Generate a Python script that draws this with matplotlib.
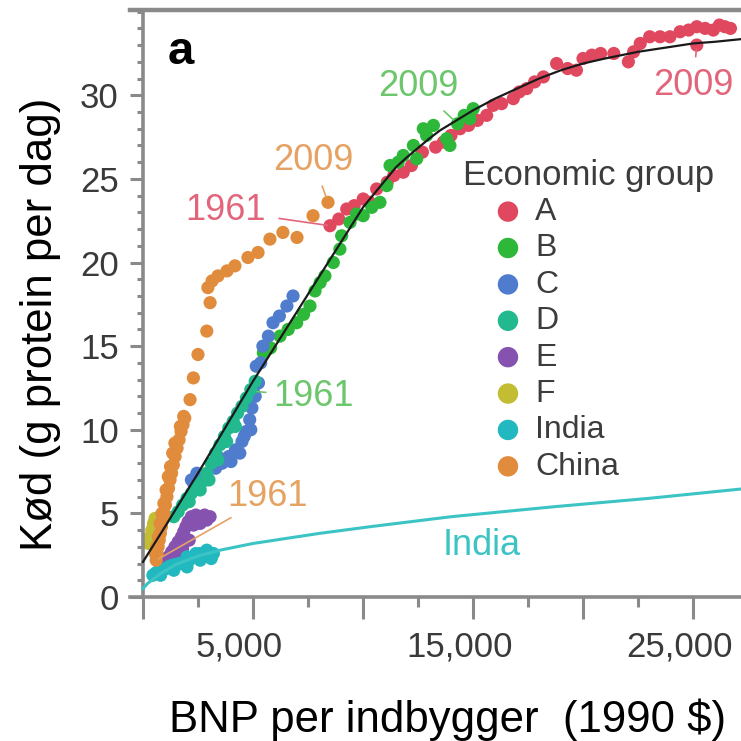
import matplotlib
matplotlib.use("Agg")
import matplotlib.pyplot as plt
import matplotlib.transforms as mtransforms
from matplotlib.ticker import FixedLocator, MultipleLocator

plt.rcParams['font.family'] = ['Liberation Sans', 'DejaVu Sans']

# --- data (GDP per capita, meat protein g/day) ---
A_x = [8500, 8900, 9260, 9600, 10010, 10300, 10620, 11100, 11400, 11830, 12200, 12700,
       13300, 13650, 14000, 14410, 14800, 15200, 15620, 15920, 16300, 16830, 17100, 17440,
       17800, 18200, 18800, 19300, 19700, 20000, 20400, 20800, 21400, 22060, 22300, 22600,
       23030, 23500, 23950, 24410, 24800, 25170, 25550, 25920, 26200, 26450, 26700, 25170]
A_y = [22.2, 22.6, 23.2, 23.4, 23.8, 23.6, 24.4, 24.8, 25.2, 25.4, 25.8, 26.6,
       26.9, 27.2, 27.6, 28.0, 28.2, 28.5, 28.8, 29.4, 29.5, 29.8, 30.2, 30.4,
       30.8, 31.1, 31.9, 31.6, 31.5, 32.2, 32.4, 32.5, 32.5, 32.0, 32.6, 33.1,
       33.5, 33.5, 33.5, 33.8, 33.9, 34.1, 34.0, 33.9, 34.2, 34.1, 34.0, 33.0]

B_x = [5000, 5200, 5470, 5800, 6230, 6600, 6985, 7300, 7590, 7820, 8050, 8270, 8650, 8950,
       9030, 9410, 9700, 10010, 10400, 10770, 11080, 11230, 11600, 11830, 12290, 12440,
       12740, 12890, 13200, 13800, 13950, 14600, 15010, 14860, 14300]
B_y = [12.3, 12.8, 14.6, 14.9, 15.6, 16.0, 16.4, 16.9, 17.4, 18.3, 18.8, 19.2, 20.0, 20.8,
       21.6, 22.4, 22.9, 22.8, 23.3, 23.6, 24.6, 25.8, 26.0, 26.4, 27.0, 26.2,
       28.0, 27.6, 28.2, 27.4, 27.0, 28.8, 29.2, 28.6, 28.3]

C_x = [2200, 2300, 2450, 3300, 3400, 3600, 3900, 4000, 4200, 4400, 4500, 4600, 4700, 4850,
       4900, 4950, 5000, 5100, 5250, 5150, 5350, 5450, 5700, 5910, 6200, 6540, 6820]
C_y = [7.0, 6.8, 7.4, 7.7, 8.4, 8.0, 8.4, 8.1, 8.8, 8.6, 9.3, 9.6, 9.9, 10.6,
       10.0, 11.3, 12.4, 12.0, 12.8, 13.8, 14.0, 15.0, 15.6, 16.4, 16.8, 17.4, 18.0]

D_x = [1400, 1600, 1800, 2000, 2100, 2200, 2450, 2600, 2700, 2900, 3000, 3100, 3300, 3400,
       3500, 3700, 3800, 3900, 4100, 4200, 4300, 4500, 4700, 4900, 5100]
D_y = [4.8, 5.1, 5.5, 5.9, 5.7, 6.2, 6.6, 6.4, 6.9, 7.4, 7.0, 8.0, 8.6, 8.2,
       9.1, 9.6, 9.3, 10.1, 10.5, 10.2, 11.0, 11.4, 11.9, 12.4, 12.9]

E_x = [850, 1000, 1150, 1200, 1300, 1450, 1600, 1700, 1750, 1850, 1950, 2050, 2200, 2300,
       2400, 2600, 2650, 2800, 2900, 3050, 1500, 1800, 2100]
E_y = [1.8, 2.1, 2.4, 2.0, 2.7, 3.0, 3.3, 2.6, 3.6, 3.9, 4.2, 4.5, 4.8, 4.3,
       4.9, 4.4, 4.8, 4.9, 4.6, 4.8, 2.4, 2.9, 3.4]

F_x = [250, 330, 400, 480, 550]
F_y = [3.2, 3.6, 4.0, 4.4, 4.7]

india_x = [450, 550, 650, 750, 800, 850, 950, 1050, 1150, 1250, 1350, 1400, 1500, 1650,
           1800, 1950, 2000, 2100, 2250, 2400, 2600, 2600, 2800, 2900, 3000, 3100, 3200, 2000]
india_y = [1.3, 1.4, 1.5, 1.55, 1.3, 1.6, 1.65, 1.7, 1.8, 1.85, 1.9, 1.6, 1.95, 2.0,
           2.05, 2.1, 1.8, 2.2, 2.4, 2.6, 2.6, 2.2, 2.5, 2.8, 2.5, 2.3, 2.6, 2.4]

china_x = [600, 560, 620, 640, 690, 700, 740, 780, 790, 840, 860, 900, 950, 960, 1020,
           1050, 1090, 1150, 1160, 1230, 1250, 1300, 1350, 1380, 1450, 1460, 1550, 1640,
           1700, 1730, 1820, 1850, 1900, 2140, 2290, 2500, 2900, 3050, 2950, 3140,
           3410, 3820, 4180, 4770, 5230, 5770, 6360, 7000, 7730, 8410]
china_y = [2.2, 2.6, 3.0, 2.6, 3.0, 3.6, 3.4, 4.4, 3.8, 4.2, 5.0, 4.6, 5.6, 5.0, 5.5,
           6.4, 6.0, 7.2, 6.5, 7.0, 7.8, 7.4, 8.6, 7.9, 9.2, 8.4, 8.9, 9.4,
           10.2, 9.9, 10.3, 10.8, 10.7, 11.8, 13.1, 14.5, 15.9, 17.6, 18.5, 18.9,
           19.2, 19.5, 19.8, 20.3, 20.6, 21.4, 21.8, 21.5, 22.8, 23.6]

# fitted curve and India curve
fit_x = [0, 1000, 2500, 5000, 7500, 10000, 11500, 12000, 13000, 13500, 14500, 15000,
         16000, 17000, 18000, 19000, 20000, 21000, 22500, 23500, 25000, 26000, 27500]
fit_y = [2.1, 4.2, 7.4, 12.9, 18.1, 23.3, 25.7, 26.3, 27.4, 27.9, 28.7, 29.1,
         29.8, 30.4, 31.0, 31.5, 31.9, 32.2, 32.6, 32.8, 33.1, 33.2, 33.4]
ind_line_x = [0, 200, 400, 800, 1500, 2500, 3500, 5000, 6500, 8000, 10300, 14000, 18700, 23000, 27500]
ind_line_y = [0.5, 0.8, 1.0, 1.4, 1.95, 2.45, 2.8, 3.2, 3.5, 3.8, 4.2, 4.8, 5.4, 5.9, 6.5]

groups = ['A', 'B', 'C', 'D', 'E', 'F', 'India', 'China']
colors = ['#e0485f', '#2db83a', '#4f7ccc', '#22b98e', '#8652b0', '#c2bd33', '#22b8bf', '#e08c3c']
series = [(A_x, A_y), (B_x, B_y), (C_x, C_y), (D_x, D_y), (E_x, E_y), (F_x, F_y),
          (india_x, india_y), (china_x, china_y)]

x_ticks = [0, 5000, 10000, 15000, 20000, 25000]
x_labeled = [5000, 15000, 25000]

fig = plt.figure(figsize=(7.41, 7.41), dpi=100)
ax = fig.add_axes([130 / 741, 144 / 741, 611 / 741, 587 / 741])

handles = []
for (xs, ys), c, g in zip(series, colors, groups):
    h = ax.scatter(xs, ys, s=90, color=c, edgecolors='none', label=g, zorder=2)
    handles.append(h)

ax.plot(fit_x, fit_y, color='#1a1a1a', lw=1.6, zorder=4)
ax.plot(ind_line_x, ind_line_y, color='#3cc4c4', lw=2.2, zorder=4)

ax.set_xlim(-590, 27180)
ax.set_ylim(0, 35.1)

grey = '#8a8a8a'
for side in ['top', 'bottom', 'left']:
    ax.spines[side].set_color(grey)
    ax.spines[side].set_linewidth(2.6)
ax.spines['top'].set_linewidth(3.2)
ax.spines['right'].set_visible(False)
ax.spines['left'].set_position(('data', 0))

ax.xaxis.set_major_locator(FixedLocator(x_ticks))
ax.set_xticklabels([''] * len(x_ticks))
ax.xaxis.set_minor_locator(FixedLocator([2500, 7500, 12500, 17500, 22500]))
ax.yaxis.set_minor_locator(MultipleLocator(1))
ax.set_yticks([0, 5, 10, 15, 20, 25, 30])

ax.tick_params(axis='x', which='major', length=15.5, width=2.2, color=grey)
ax.tick_params(axis='x', which='minor', length=7, width=2.2, color=grey)
ax.tick_params(axis='y', which='major', length=9.5, width=2.2, color=grey,
               labelsize=25, labelcolor='#3a3a3a', pad=8)
ax.tick_params(axis='y', which='minor', length=4.5, width=2.2, color=grey)

# x tick labels sit a little left of their ticks in the original
xlab_trans = ax.get_xaxis_transform() + mtransforms.ScaledTranslation(-0.135, -0.335, fig.dpi_scale_trans)
for xv in x_labeled:
    ax.text(xv, 0, f'{xv:,}', transform=xlab_trans, ha='center', va='top',
            fontsize=25, color='#3a3a3a', clip_on=False)

ax.set_xlabel('BNP per indbygger  (1990 $)', fontsize=31.5, color='black', va='baseline')
ax.xaxis.set_label_coords(0.519, -0.23)
ax.set_ylabel('Kød (g protein per dag)', fontsize=31.5, color='black')
ax.yaxis.set_label_coords(-0.113, 0.465)

ax.text(0.062, 0.928, 'a', transform=ax.transAxes, fontsize=34, fontweight='bold',
        ha='left', va='center')

# annotations
lab_red, lab_green, lab_orange = '#e2667b', '#6cc66c', '#e6a263'
ann = dict(fontsize=26, ha='center', va='center')
ax.annotate('2009', xy=(A_x[-1], A_y[-1]), xytext=(25000, 30.6), color=lab_red,
            arrowprops=dict(arrowstyle='-', color=lab_red, lw=1.2, shrinkA=6, shrinkB=3), **ann)
ax.annotate('1961', xy=(A_x[0], A_y[0]), xytext=(3730, 23.1), color=lab_red,
            arrowprops=dict(arrowstyle='-', color=lab_red, lw=1.2, shrinkA=8, shrinkB=2), **ann)
ax.annotate('2009', xy=(B_x[-1], B_y[-1]), xytext=(12500, 30.5), color=lab_green,
            arrowprops=dict(arrowstyle='-', color=lab_green, lw=1.2, shrinkA=4, shrinkB=3), **ann)
ax.annotate('1961', xy=(B_x[0], B_y[0]), xytext=(7730, 12.0), color=lab_green,
            arrowprops=dict(arrowstyle='-', color=lab_green, lw=1.2, shrinkA=3, shrinkB=3), **ann)
ax.annotate('2009', xy=(china_x[-1], china_y[-1]), xytext=(7730, 26.1), color=lab_orange,
            arrowprops=dict(arrowstyle='-', color=lab_orange, lw=1.2, shrinkA=4, shrinkB=4), **ann)
ax.annotate('1961', xy=(china_x[0], china_y[0]), xytext=(5680, 6.0), color=lab_orange,
            arrowprops=dict(arrowstyle='-', color=lab_orange, lw=1.2, shrinkA=1, shrinkB=2),
            zorder=5, **ann)
ax.text(15400, 3.1, 'India', color='#3cc4c4', **ann)

# legend
fig.text(463 / 741, 1 - 175 / 741, 'Economic group', fontsize=25, color='#3c3c3c',
         ha='left', va='center')
leg = ax.legend(handles=handles, loc='upper left', bbox_to_anchor=(492 / 741, 1 - 197 / 741),
                bbox_transform=fig.transFigure, frameon=False, fontsize=23,
                borderpad=0, borderaxespad=0, handlelength=1.0, handletextpad=0.35,
                labelspacing=0.2, markerscale=1.55, labelcolor='#3c3c3c')

fig.savefig('out.png', dpi=100)
